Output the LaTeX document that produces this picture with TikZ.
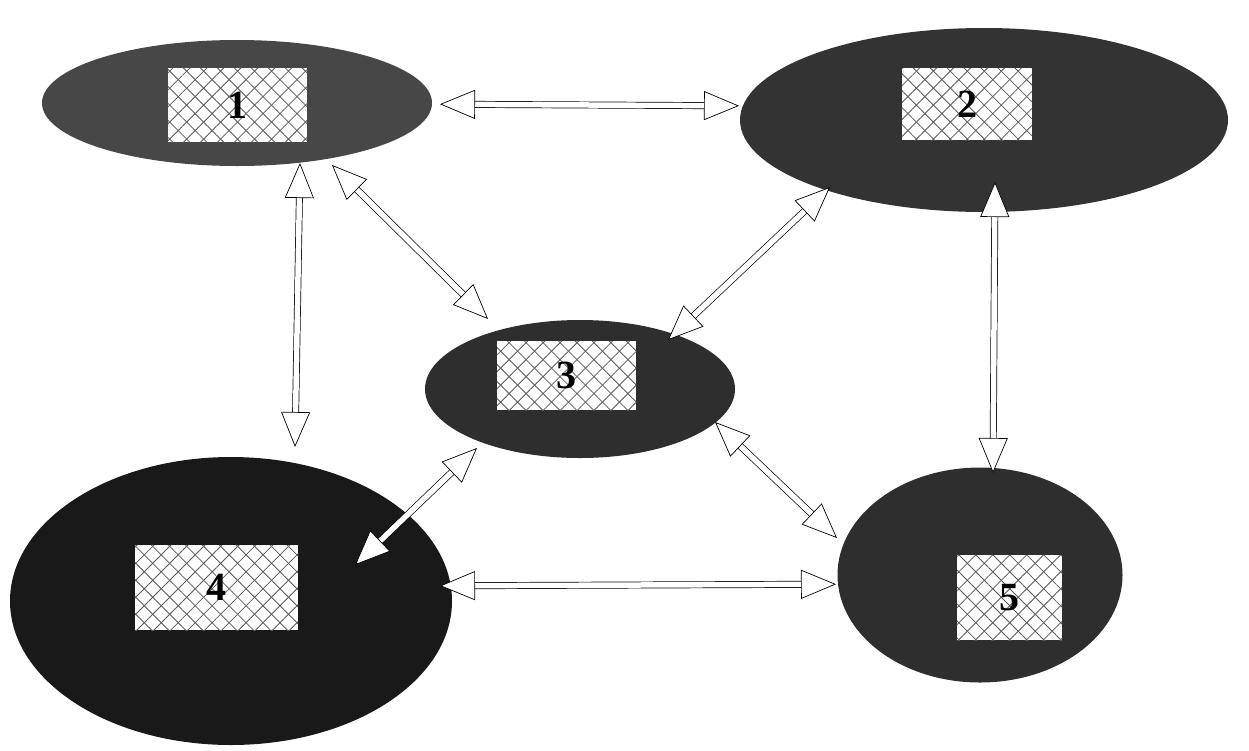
\documentclass[tikz,border=0pt]{standalone}
\usepackage{fontspec}
\setmainfont{Liberation Serif}
\usetikzlibrary{shapes.geometric,arrows.meta,patterns.meta}
\tikzset{
  blob/.style={ellipse, draw=none, inner sep=0pt},
  hatchbox/.style={rectangle, draw=none, fill=white, inner sep=0pt,
    postaction={pattern={Lines[angle=45,distance=12pt,line width=0.8pt]}, pattern color=black!65},
    postaction={pattern={Lines[angle=-45,distance=12pt,line width=0.8pt]}, pattern color=black!65}},
  digit/.style={font=\fontsize{40}{40}\selectfont\bfseries},
  tip/.tip={Triangle[fill=white,length=35pt,width=29pt,line width=0.7pt]},
  blk/.style={draw=black, double=white, double distance=5.5pt, line width=0.7pt, tip-tip}
}
\begin{document}
\begin{tikzpicture}[x=1pt,y=-1pt]
\useasboundingbox (0,0) rectangle (1249,750);
% ellipses
\node[blob, fill=black!72, minimum width=390pt, minimum height=126pt] (e1) at (237,103) {};
\node[blob, fill=black!80, minimum width=488pt, minimum height=184pt] (e2) at (984,120) {};
\node[blob, fill=black!82, minimum width=310pt, minimum height=138pt] (e3) at (580,389) {};
\node[blob, fill=black!90, minimum width=442pt, minimum height=288pt] (e4) at (231,601) {};
\node[blob, fill=black!82, minimum width=285pt, minimum height=215pt] (e5) at (980,575) {};
% hatched boxes
\node[hatchbox, minimum width=139pt, minimum height=74pt] (r1) at (237.5,105) {};
\node[digit] at (r1) {1};
\node[hatchbox, minimum width=130pt, minimum height=72pt] (r2) at (967,104) {};
\node[digit] at (r2) {2};
\node[hatchbox, minimum width=139pt, minimum height=69pt] (r3) at (566.5,375.5) {};
\node[digit] at (r3) {3};
\node[hatchbox, minimum width=163pt, minimum height=85pt] (r4) at (216.5,587.5) {};
\node[digit] at (r4) {4};
\node[hatchbox, minimum width=105pt, minimum height=85pt] (r5) at (1009.5,597.5) {};
\node[digit] at (r5) {5};
% arrow end points
\coordinate (a12) at (440,104.2);  \coordinate (a21) at (739,105.8);
\coordinate (a14) at (300,163);  \coordinate (a41) at (295,447);
\coordinate (a13) at (332,165);  \coordinate (a31) at (488,319);
\coordinate (a23) at (830,187);  \coordinate (a32) at (668,340);
\coordinate (a25) at (995,182);  \coordinate (a52) at (993,473);
\coordinate (a34) at (477,448);  \coordinate (a43) at (355,565);
\coordinate (a35) at (715,422);  \coordinate (a53) at (837,538);
\coordinate (a45) at (440,585.8);  \coordinate (a54) at (836,584.2);
% connectors
\draw[blk] (a12) -- (a21);
\draw[blk] (a14) -- (a41);
\draw[blk] (a13) -- (a31);
\draw[blk] (a23) -- (a32);
\draw[blk] (a25) -- (a52);
\draw[blk] (a34) -- (a43);
\draw[blk] (a35) -- (a53);
\draw[blk] (a45) -- (a54);
\end{tikzpicture}
\end{document}
